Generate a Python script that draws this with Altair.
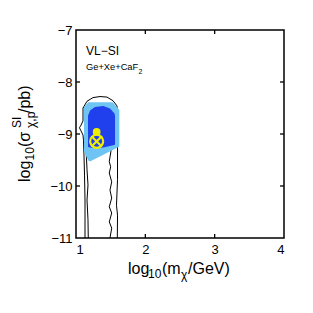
import altair as alt
import pandas as pd

# ---- data ----
outer_x = [1.130, 1.130, 1.123, 1.115, 1.108, 1.101, 1.072, 1.050, 1.072, 1.101, 1.101, 1.159,
           1.245, 1.346, 1.447, 1.534, 1.591, 1.599, 1.599, 1.584, 1.599, 1.596]
outer_y = [-11.0, -10.27, -9.79, -9.40, -9.12, -9.02, -8.94, -8.88, -8.83, -8.75, -8.50, -8.37,
           -8.30, -8.28, -8.29, -8.36, -8.46, -8.92, -9.88, -10.37, -10.56, -11.0]

inner_x = [1.177, 1.173, 1.159, 1.173, 1.159, 1.151, 1.144, 1.231, 1.404, 1.515, 1.480, 1.500,
           1.480, 1.515, 1.490, 1.515, 1.480, 1.515, 1.480, 1.515, 1.490]
inner_y = [-11.0, -10.65, -10.27, -9.98, -9.69, -9.46, -9.31, -9.12, -9.06, -9.24, -9.53, -9.63,
           -9.75, -9.92, -10.08, -10.23, -10.40, -10.52, -10.69, -10.81, -11.0]

light_x = [1.115, 1.177, 1.202, 1.529, 1.625]
light_top = [-8.48, -8.39, -8.39, -8.39, -8.54]
light_bot = [-9.34, -9.51, -9.53, -9.31, -9.24]

dark_x = [1.173, 1.202, 1.274, 1.394, 1.490, 1.552, 1.563]
dark_top = [-8.65, -8.55, -8.48, -8.46, -8.51, -8.60, -8.65]
dark_bot = [-9.25, -9.26, -9.27, -9.26, -9.23, -9.21, -9.20]

dot_x, dot_y = [1.298], [-8.96]
xmark_x, xmark_y = [1.298], [-9.14]

x_ticks = [1, 2, 3, 4]
y_ticks = [-7, -8, -9, -10, -11]
x_inner_ticks = [2, 3]
y_inner_ticks = [-8, -9, -10]

W, H = 208, 208
FONT = "Liberation Sans"
BLACK = "#000000"
LIGHT = "#6ec5f3"
DARK = "#2040ee"
YELLOW = "#eeee00"

xs = alt.Scale(domain=[1, 4], nice=False, zero=False)
ys = alt.Scale(domain=[-11, -7], nice=False, zero=False)

outer = pd.DataFrame({"x": outer_x, "y": outer_y, "o": range(len(outer_x))})
inner = pd.DataFrame({"x": inner_x, "y": inner_y, "o": range(len(inner_x))})
light = pd.DataFrame({"x": light_x, "t": light_top, "b": light_bot})
dark = pd.DataFrame({"x": dark_x, "t": dark_top, "b": dark_bot})

base_axes = alt.Chart(pd.DataFrame({"x": [1], "y": [-11]})).mark_point(opacity=0).encode(
    x=alt.X("x:Q", scale=xs, axis=alt.Axis(values=x_ticks, ticks=False, grid=False, domain=False,
                                           labelFontSize=13, labelPadding=5, labelFont=FONT,
                                           labelColor=BLACK, format="d", title=None)),
    y=alt.Y("y:Q", scale=ys, axis=alt.Axis(values=y_ticks, ticks=False, grid=False, domain=False,
                                           labelFontSize=13, labelPadding=4, labelFont=FONT,
                                           labelColor=BLACK, format="d", title=None)),
)

outer_l = alt.Chart(outer).mark_line(color=BLACK, strokeWidth=1, clip=True).encode(
    x=alt.X("x:Q", scale=xs), y=alt.Y("y:Q", scale=ys), order="o:Q")
inner_l = alt.Chart(inner).mark_line(color=BLACK, strokeWidth=1, clip=True).encode(
    x=alt.X("x:Q", scale=xs), y=alt.Y("y:Q", scale=ys), order="o:Q")

light_a = alt.Chart(light).mark_area(color=LIGHT, opacity=1).encode(
    x=alt.X("x:Q", scale=xs), y=alt.Y("t:Q", scale=ys), y2="b:Q")
dark_a = alt.Chart(dark).mark_area(color=DARK, opacity=1).encode(
    x=alt.X("x:Q", scale=xs), y=alt.Y("t:Q", scale=ys), y2="b:Q")

dot = alt.Chart(pd.DataFrame({"x": dot_x, "y": dot_y})).mark_point(
    filled=True, color=YELLOW, opacity=1, size=60, shape="circle").encode(
    x=alt.X("x:Q", scale=xs), y=alt.Y("y:Q", scale=ys))
xm_df = pd.DataFrame({"x": xmark_x, "y": xmark_y})
ring = alt.Chart(xm_df).mark_point(
    filled=False, color=YELLOW, opacity=1, size=170, shape="circle", strokeWidth=2.2).encode(
    x=alt.X("x:Q", scale=xs), y=alt.Y("y:Q", scale=ys))
cross = alt.Chart(xm_df).mark_point(
    filled=False, color=YELLOW, opacity=1, size=105, shape="M-1,-1L1,1M-1,1L1,-1",
    strokeWidth=2.2).encode(x=alt.X("x:Q", scale=xs), y=alt.Y("y:Q", scale=ys))

xt = pd.DataFrame({"v": x_inner_ticks})
yt = pd.DataFrame({"v": y_inner_ticks})
tick_b = alt.Chart(xt).mark_rule(color=BLACK, strokeWidth=1.3).encode(
    x=alt.X("v:Q", scale=xs), y=alt.value(H), y2=alt.value(H - 4))
tick_t = alt.Chart(xt).mark_rule(color=BLACK, strokeWidth=1.3).encode(
    x=alt.X("v:Q", scale=xs), y=alt.value(0), y2=alt.value(4))
tick_l = alt.Chart(yt).mark_rule(color=BLACK, strokeWidth=1.3).encode(
    y=alt.Y("v:Q", scale=ys), x=alt.value(0), x2=alt.value(4))
tick_r = alt.Chart(yt).mark_rule(color=BLACK, strokeWidth=1.3).encode(
    y=alt.Y("v:Q", scale=ys), x=alt.value(W), x2=alt.value(W - 4))

# text pieces (pixel positions relative to the plot area)
labels = pd.DataFrame([
    {"t": "VL\u2212SI", "px": 10, "py": 25, "s": 12, "a": 0},
    {"t": "Ge+Xe+CaF", "px": 10, "py": 40, "s": 9.3, "a": 0},
    {"t": "2", "px": 62.5, "py": 43.5, "s": 7, "a": 0},
    # x title
    {"t": "log", "px": 52, "py": 244, "s": 16, "a": 0},
    {"t": "10", "px": 72, "py": 248, "s": 12, "a": 0},
    {"t": "(m", "px": 86, "py": 244, "s": 16, "a": 0},
    {"t": "\u03c7", "px": 105, "py": 249, "s": 12, "a": 0},
    {"t": "/GeV)", "px": 112, "py": 244, "s": 16, "a": 0},
    # y title (rotated)
    {"t": "log", "px": -46, "py": 152, "s": 16, "a": 270},
    {"t": "10", "px": -42, "py": 130.5, "s": 12, "a": 270},
    {"t": "(\u03c3", "px": -46, "py": 117, "s": 16, "a": 270},
    {"t": "SI", "px": -55, "py": 98, "s": 12, "a": 270},
    {"t": "\u03c7,p", "px": -41.5, "py": 98, "s": 12, "a": 270},
    {"t": "/pb)", "px": -46, "py": 83, "s": 16, "a": 270},
])
texts = alt.Chart(labels).mark_text(align="left", baseline="alphabetic", font=FONT,
                                    color=BLACK).encode(
    x=alt.X("px:Q", scale=None), y=alt.Y("py:Q", scale=None), text="t:N",
    size=alt.Size("s:Q", scale=None, legend=None), angle=alt.Angle("a:Q", scale=None))

chart = alt.layer(base_axes, outer_l, inner_l, light_a, dark_a, dot, ring, cross,
                  tick_b, tick_t, tick_l, tick_r, texts).properties(
    width=W, height=H,
    background="white",
    autosize=alt.AutoSizeParams(type="none"),
    padding={"left": 68, "top": 22, "right": 21, "bottom": 75},
).configure_view(stroke=BLACK, strokeWidth=1.5)

chart.save("out.html", embed_options={"renderer": "svg", "actions": False})
